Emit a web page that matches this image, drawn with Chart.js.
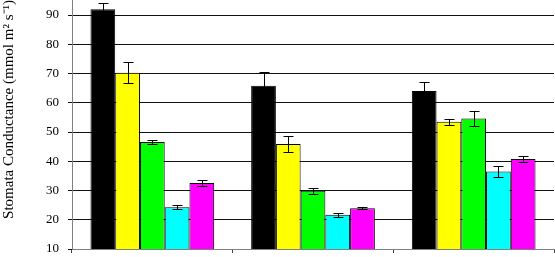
<!DOCTYPE html>
<html>
<head>
<meta charset="utf-8">
<script src="https://cdn.jsdelivr.net/npm/chart.js@4/dist/chart.umd.min.js"></script>
<style>
  html, body { margin: 0; padding: 0; background: #fff; }
  #chart { display: block; }
</style>
</head>
<body>
<canvas id="chart" width="555" height="257"></canvas>
<script>
// three groups, five treatments each (no labels visible in the picture)
const categories = ['1', '2', '3'];

const blackVals   = [92.0, 65.8, 64.0];
const yellowVals  = [70.3, 45.9, 53.5];
const greenVals   = [46.6, 29.9, 54.6];
const cyanVals    = [24.3, 21.7, 36.5];
const magentaVals = [32.6, 23.9, 40.8];

// +/- error for each bar
const blackErr   = [2.0, 4.6, 3.2];
const yellowErr  = [3.7, 2.6, 1.0];
const greenErr   = [0.8, 1.0, 2.6];
const cyanErr    = [0.6, 0.6, 1.8];
const magentaErr = [1.1, 0.3, 1.1];

const yMin = 10;
const yMax = 95.13;   // top of the picture is cut just above 90
const yStep = 10;

const yTitle = 'Stomata Conductance (mmol m\u00B2 s\u207B\u00B9)';

const serif = "'Liberation Serif', 'Times New Roman', serif";

//==== error bars ====//
const errorBars = {
    id: 'errorBars',
    afterDatasetsDraw(chart) {
        const ctx = chart.ctx;
        const yScale = chart.scales.y;
        ctx.save();
        ctx.strokeStyle = '#000';
        ctx.lineWidth = 1;
        chart.data.datasets.forEach((ds, i) => {
            const meta = chart.getDatasetMeta(i);
            meta.data.forEach((bar, j) => {
                const v = ds.data[j];
                const e = ds.errors[j];
                const x = Math.round(bar.x) + 0.5;
                const top = Math.round(yScale.getPixelForValue(v + e)) + 0.5;
                const bot = Math.round(yScale.getPixelForValue(v - e)) + 0.5;
                ctx.beginPath();
                ctx.moveTo(x, top);
                ctx.lineTo(x, bot);
                ctx.moveTo(x - 5, top);
                ctx.lineTo(x + 5, top);
                ctx.moveTo(x - 5, bot);
                ctx.lineTo(x + 5, bot);
                ctx.stroke();
            });
        });
        ctx.restore();
    }
};

const makeSet = (label, data, errors, color) => ({
    label, data, errors,
    backgroundColor: color,
    borderColor: '#000',
    borderWidth: 1,
    borderSkipped: false,
    categoryPercentage: 0.77,
    barPercentage: 1.0
});

const chart = document.querySelector('#chart').getContext('2d');

new Chart(chart, {
    type: 'bar',
    data: {
        labels: categories,
        datasets: [
            makeSet('Black', blackVals, blackErr, '#000000'),
            makeSet('Yellow', yellowVals, yellowErr, '#ffff00'),
            makeSet('Green', greenVals, greenErr, '#00ff00'),
            makeSet('Cyan', cyanVals, cyanErr, '#00ffff'),
            makeSet('Magenta', magentaVals, magentaErr, '#ff00ff')
        ]
    },
    options: {
        responsive: false,
        devicePixelRatio: 1,
        animation: false,
        layout: { padding: { left: 0, right: 1, top: 0, bottom: 4 } },
        plugins: {
            legend: { display: false },
            tooltip: { enabled: false }
        },
        scales: {
            x: {
                ticks: { display: false },
                grid: {
                    offset: true,
                    drawOnChartArea: true,
                    color: c => c.index === categories.length ? '#808080' : 'rgba(0,0,0,0)',
                    tickColor: '#404040',
                    tickLength: 4
                },
                border: { color: '#808080', width: 1 }
            },
            y: {
                min: yMin,
                max: yMax,
                afterFit: s => {
                    s.width = 72;
                    s.paddingTop = 0;
                    s.paddingBottom = 0;
                },
                ticks: {
                    stepSize: yStep,
                    includeBounds: false,
                    color: '#000',
                    padding: 9,
                    font: { family: serif, size: 13 }
                },
                grid: {
                    color: c => c.tick && c.tick.value === yMin ? 'rgba(0,0,0,0)' : '#111',
                    tickColor: '#111',
                    tickLength: 4
                },
                border: { color: '#808080', width: 1 },
                title: {
                    display: true,
                    text: yTitle,
                    align: 'end',
                    color: '#000',
                    padding: 0,
                    font: { family: serif, size: 15 }
                }
            }
        }
    },
    plugins: [errorBars]
});
</script>
</body>
</html>
